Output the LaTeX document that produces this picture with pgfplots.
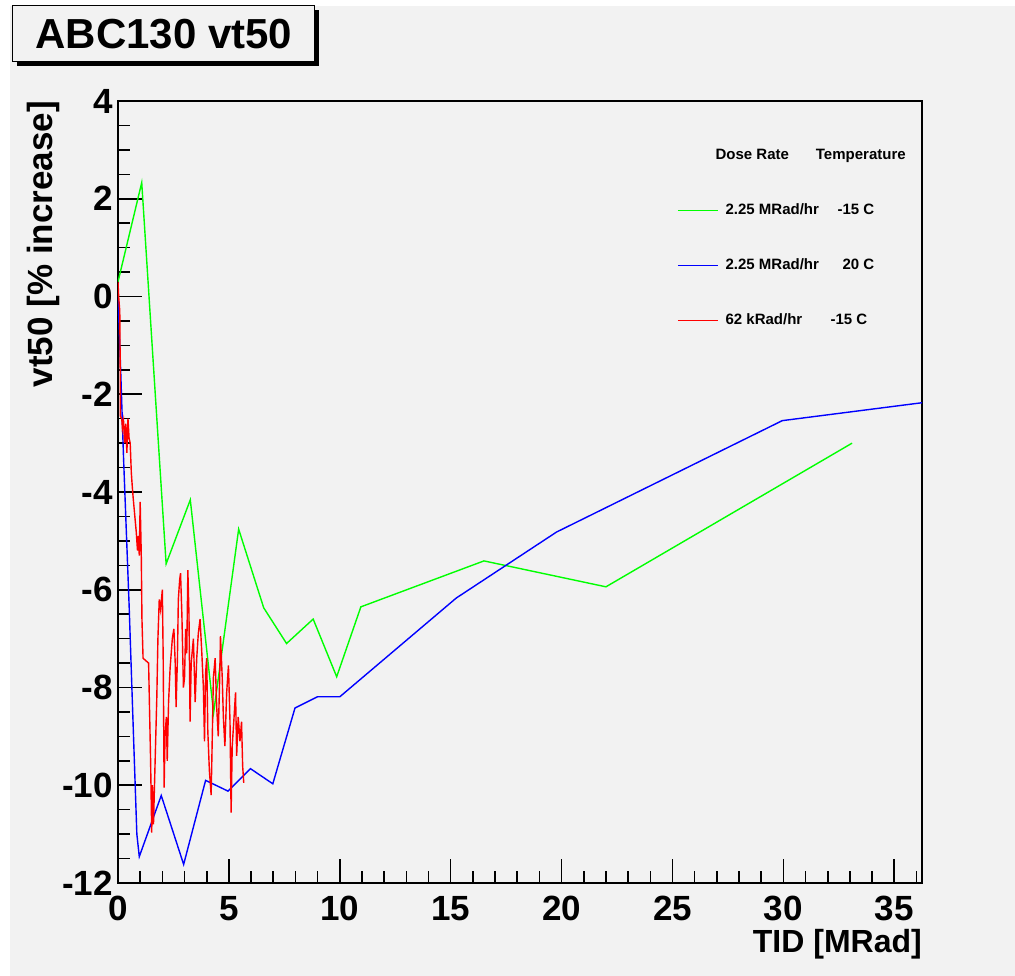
\documentclass[border=0pt]{standalone}
\usepackage{fontspec}
\setmainfont{Liberation Sans}
\usepackage{pgfplots}
\pgfplotsset{compat=1.18}
\definecolor{bggrey}{HTML}{F2F2F2}
\definecolor{rgreen}{HTML}{00FF00}
\definecolor{rblue}{HTML}{0000FF}
\definecolor{rred}{HTML}{FF0000}

\pgfplotstableread{
x y
0.00 0.30
1.07 2.33
2.17 -5.47
3.26 -4.16
4.31 -8.52
5.44 -4.76
6.57 -6.37
7.60 -7.10
8.80 -6.60
9.86 -7.78
10.95 -6.35
16.50 -5.41
22.00 -5.94
33.10 -3.00
}\greendata

\pgfplotstableread{
x y
0.00 0.00
0.12 -1.50
0.25 -3.30
0.50 -6.30
0.70 -9.00
0.85 -11.00
0.96 -11.46
1.95 -10.21
2.96 -11.62
3.95 -9.90
4.96 -10.12
5.97 -9.66
6.98 -9.97
7.98 -8.42
8.99 -8.19
10.00 -8.19
15.25 -6.17
19.77 -4.82
29.95 -2.54
37.00 -2.13
}\bluedata

\pgfplotstableread{
x y
0.00 0.30
0.03 0.00
0.08 -0.30
0.10 -1.50
0.11 -2.45
0.17 -2.50
0.20 -2.70
0.25 -2.55
0.30 -3.00
0.35 -2.60
0.40 -3.20
0.45 -2.50
0.50 -2.90
0.55 -3.00
0.60 -3.60
0.63 -3.80
0.68 -4.10
0.72 -4.30
0.78 -4.60
0.82 -4.80
0.88 -5.20
0.92 -4.90
0.96 -5.30
1.00 -4.20
1.05 -5.30
1.08 -6.60
1.13 -7.40
1.25 -7.45
1.38 -7.50
1.42 -8.40
1.47 -9.50
1.52 -10.97
1.55 -10.00
1.60 -10.80
1.68 -9.40
1.75 -8.20
1.80 -7.00
1.86 -6.20
1.92 -6.40
2.00 -6.00
2.04 -7.50
2.08 -10.05
2.12 -9.00
2.18 -8.60
2.22 -9.50
2.28 -8.30
2.35 -7.60
2.45 -7.00
2.52 -6.80
2.58 -7.50
2.62 -8.40
2.68 -7.40
2.72 -6.20
2.78 -5.80
2.82 -5.66
2.88 -6.50
2.95 -8.00
3.00 -7.80
3.05 -6.80
3.10 -7.30
3.15 -5.60
3.20 -6.50
3.25 -8.70
3.30 -7.50
3.40 -7.00
3.48 -8.30
3.55 -7.40
3.62 -6.90
3.70 -6.60
3.78 -7.30
3.85 -8.00
3.90 -9.10
3.95 -7.70
4.00 -7.40
4.05 -8.90
4.12 -9.70
4.20 -10.20
4.26 -8.80
4.30 -7.80
4.38 -7.40
4.45 -8.40
4.52 -9.00
4.58 -7.90
4.62 -6.95
4.70 -7.80
4.75 -8.60
4.82 -9.20
4.90 -8.10
4.98 -7.55
5.05 -8.70
5.10 -10.56
5.15 -9.20
5.22 -8.70
5.30 -8.10
5.35 -9.40
5.42 -8.60
5.50 -9.10
5.57 -8.70
5.62 -9.60
5.67 -9.95
}\reddata

\begin{document}
\begin{tikzpicture}
\fill[white] (-118bp,-93bp) rectangle (897bp,883bp);
\fill[bggrey] (-108bp,-93bp) rectangle (897bp,877bp);
\useasboundingbox (-118bp,-93bp) rectangle (897bp,883bp);
% title box shadow
\fill[black] (-101bp,817bp) rectangle (201bp,873bp);
\begin{axis}[
  scale only axis=true,
  width=804bp, height=782bp,
  xmin=0, xmax=36.25, ymin=-12, ymax=4,
  xtick={0,5,...,40}, ytick={-12,-10,...,4},
  minor x tick num=4, minor y tick num=3,
  tick pos=left, tick align=inside,
  major tick length=24bp, minor tick length=12bp,
  every tick/.style={black, line width=1.6bp},
  axis line style={black, line width=1.6bp},
  /pgf/number format/assume math mode=true,
  ticklabel style={font=\bfseries\fontsize{35bp}{38bp}\selectfont, inner sep=0pt},
  yticklabel style={xshift=-5bp},
  xticklabel style={yshift=-13bp},
  title={ABC130 vt50},
  title style={at={(axis description cs:0.0572,1.0857)}, anchor=center,
    yshift=-6pt, draw=black, fill=bggrey, line width=1bp, minimum width=302bp,
    minimum height=56bp, inner sep=0pt,
    font=\bfseries\fontsize{42bp}{46bp}\selectfont},
  xlabel={TID [MRad]},
  xlabel style={at={(axis description cs:1,-0.0595)}, anchor=north east,
    inner sep=0pt, font=\bfseries\fontsize{32bp}{36bp}\selectfont},
  ylabel={vt50 [\% increase]},
  ylabel style={at={(axis description cs:-0.0722,1)}, anchor=south east,
    inner sep=0pt, font=\bfseries\fontsize{35bp}{38bp}\selectfont},
  legend style={at={(axis description cs:0.695,0.940)}, anchor=north west,
    draw=bggrey, fill=bggrey, inner sep=0pt, row sep=40bp, column sep=7bp,
    font=\bfseries\fontsize{15bp}{18bp}\selectfont,
    nodes={inner sep=0pt, text height=11bp, text depth=4bp}},
  legend cell align=left,
]
\addlegendimage{empty legend}
\addlegendentry{\hspace*{-10bp}Dose Rate\hspace{27bp}Temperature}
\addplot[rgreen, line width=1.4bp,
  legend image code/.code={\draw[rgreen, line width=1.6bp] (0bp,0bp) -- (40bp,0bp);}]
  table[x=x,y=y] {\greendata};
\addlegendentry{\makebox[112bp][l]{2.25 MRad/hr}-15 C}
\addplot[rblue, line width=1.4bp,
  legend image code/.code={\draw[rblue, line width=1.6bp] (0bp,0bp) -- (40bp,0bp);}]
  table[x=x,y=y] {\bluedata};
\addlegendentry{\makebox[117bp][l]{2.25 MRad/hr}20 C}
\addplot[rred, line width=1.4bp,
  legend image code/.code={\draw[rred, line width=1.6bp] (0bp,0bp) -- (40bp,0bp);}]
  table[x=x,y=y] {\reddata};
\addlegendentry{\makebox[105bp][l]{62 kRad/hr}-15 C}
\end{axis}
\end{tikzpicture}
\end{document}
